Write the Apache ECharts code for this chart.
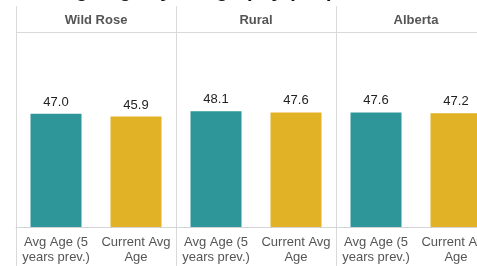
<!DOCTYPE html>
<html>
<head>
<meta charset="utf-8">
<script src="https://cdn.jsdelivr.net/npm/echarts@6/dist/echarts.min.js"></script>
<style>
html, body { margin: 0; padding: 0; background: #fff; overflow: hidden; }
/* wider than the window: the last panel is cut at the right edge */
#main { width: 500px; height: 266px; }
</style>
</head>
<body>
<div id="main"></div>
<script>
// data
var regions = ['Wild Rose', 'Rural', 'Alberta'];
var measures = ['Avg Age (5\nyears prev.)', 'Current Avg\nAge'];
var prevAvg = [47.0, 48.1, 47.6];
var currAvg = [45.9, 47.6, 47.2];
var barColors = ['#2e9699', '#e1b226'];

var chart = echarts.init(document.getElementById('main'));
var font = 'Liberation Sans, Arial, sans-serif';

var grids = [], xAxes = [], yAxes = [], series = [], lines = [];
for (var i = 0; i < regions.length; i++) {
    var left = 16 + 160 * i;
    grids.push({ left: left, width: 160, top: 32, bottom: 39 });
    // bottom axis with measures
    xAxes.push({
        type: 'category', gridIndex: i, data: measures,
        axisLine: { lineStyle: { color: '#d4d4d4' } },
        axisTick: { length: 5, lineStyle: { color: '#d4d4d4' } },
        axisLabel: { color: '#555', fontSize: 13, fontFamily: font, lineHeight: 15, margin: 8, interval: 0 }
    });
    // top axis used as panel header
    xAxes.push({
        type: 'category', gridIndex: i, position: 'top', data: [regions[i]],
        axisLine: { show: false }, axisTick: { show: false },
        axisLabel: { color: '#555', fontSize: 13, fontWeight: 'bold', fontFamily: font, margin: 5 }
    });
    yAxes.push({ type: 'value', gridIndex: i, min: 0, max: 81, show: false, splitLine: { show: false } });
    series.push({
        type: 'bar', xAxisIndex: i * 2, yAxisIndex: i, barWidth: 51,
        data: [
            { value: prevAvg[i], itemStyle: { color: barColors[0] } },
            { value: currAvg[i], itemStyle: { color: barColors[1] } }
        ],
        label: {
            show: true, position: 'top', distance: 5, color: '#222', fontSize: 13, fontFamily: font,
            formatter: function (p) { return p.value.toFixed(1); }
        }
    });
    lines.push({ type: 'line', shape: { x1: left + 0.5, y1: 6, x2: left + 0.5, y2: 266 }, style: { stroke: '#d9d9d9', lineWidth: 1 } });
}
lines.push({ type: 'line', shape: { x1: 16, y1: 32.5, x2: 500, y2: 32.5 }, style: { stroke: '#d9d9d9', lineWidth: 1 } });

chart.setOption({
    backgroundColor: '#fff',
    animation: false,
    title: {
        text: 'Average Age by Geography (Yrs)', left: 16, top: -24,
        textStyle: { color: '#111', fontSize: 20, fontWeight: 'bold', fontFamily: font }
    },
    grid: grids,
    xAxis: xAxes,
    yAxis: yAxes,
    series: series,
    graphic: lines
});
</script>
</body>
</html>
